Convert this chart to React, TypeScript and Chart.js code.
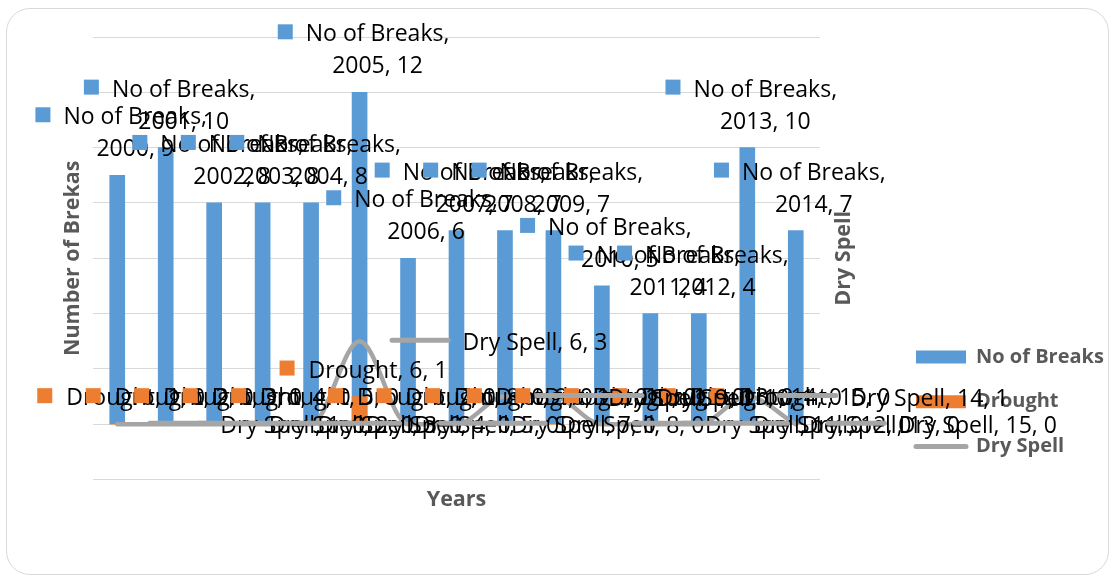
import React, { useEffect, useRef } from 'react';
import { Chart, registerables } from 'chart.js';

Chart.register(...registerables);

// ---- data ----
const years = ['2000', '2001', '2002', '2003', '2004', '2005', '2006', '2007', '2008', '2009', '2010', '2011', '2012', '2013', '2014'];
const pointIndex = [1, 2, 3, 4, 5, 6, 7, 8, 9, 10, 11, 12, 13, 14, 15];
const seriesNames = ['No of Breaks', 'Drought', 'Dry Spell'];
const breaks = [9, 10, 8, 8, 8, 12, 6, 7, 7, 7, 5, 4, 4, 10, 7];
const drought = [0, 0, 0, 0, 0, 1, 0, 0, 0, 0, 0, 0, 0, 0, 0];
const drySpell = [0, 0, 0, 0, 0, 3, 0, 0, 1, 1, 0, 0, 0, 1, 0];
const axisMin = -2;
const axisMax = 14;
const axisStep = 2;
const axisTitles = { x: 'Years', y: 'Number of Brekas', y2: 'Dry Spell' };

// ---- styles ----
const COLORS = ['#5B9BD5', '#ED7D31', '#A5A5A5'];
const TITLE_COLOR = '#595959';
const FONT = '"Open Sans", "Liberation Sans", sans-serif';
const LABEL_FONT = `23px ${FONT}`;
const TITLE_FONT = { family: FONT, size: 21.5, weight: 'bold' as const };
const PLOT_RIGHT = 820;
const LEGEND_LEFT = 891.25;
const LEGEND_PAD = 24.75;

const legendShift = {
  id: 'legendShift',
  afterUpdate(chart: any) {
    const lg = chart.legend;
    if (!lg) return;
    const w = lg.width;
    lg.left = LEGEND_LEFT;
    lg.right = LEGEND_LEFT + w;
  },
};

const labelPlugin = {
  id: 'excelLabels',
  afterDatasetsDraw(chart: any) {
    const ctx = chart.ctx as CanvasRenderingContext2D;
    ctx.save();
    ctx.font = LABEL_FONT;
    ctx.textBaseline = 'alphabetic';

    // No of Breaks labels (two lines, legend key)
    const m0 = chart.getDatasetMeta(0);
    m0.data.forEach((el: any, i: number) => {
      const l1 = `${seriesNames[0]},`;
      const l2 = `${years[i]}, ${breaks[i]}`;
      const w = Math.max(ctx.measureText(l1).width, ctx.measureText(l2).width);
      const total = 15 + 13 + w;
      const left = el.x + 4 - total / 2;
      const top = el.y;
      ctx.fillStyle = COLORS[0];
      ctx.fillRect(left, top - 68, 15, 15);
      ctx.fillStyle = '#000';
      ctx.textAlign = 'center';
      const cx = left + 28 + w / 2;
      ctx.fillText(l1, cx, top - 51);
      ctx.fillText(l2, cx, top - 19);
    });

    // Drought labels (one line, legend key)
    const m1 = chart.getDatasetMeta(1);
    m1.data.forEach((el: any, i: number) => {
      const t = `${seriesNames[1]}, ${pointIndex[i]}, ${drought[i]}`;
      const w = ctx.measureText(t).width;
      const total = 15 + 14 + w;
      const left = el.x + 4 - total / 2;
      const top = el.y;
      ctx.fillStyle = COLORS[1];
      ctx.fillRect(left, top - 36, 15, 15);
      ctx.fillStyle = '#000';
      ctx.textAlign = 'left';
      ctx.fillText(t, left + 29, top - 19);
    });

    // Dry Spell labels (right of point, line key)
    const m2 = chart.getDatasetMeta(2);
    m2.data.forEach((el: any, i: number) => {
      const t = `${seriesNames[2]}, ${pointIndex[i]}, ${drySpell[i]}`;
      ctx.strokeStyle = COLORS[2];
      ctx.lineWidth = 5;
      ctx.lineCap = 'round';
      ctx.beginPath();
      ctx.moveTo(el.x + 32.5, el.y - 1);
      ctx.lineTo(el.x + 88.5, el.y - 1);
      ctx.stroke();
      ctx.fillStyle = '#000';
      ctx.textAlign = 'left';
      ctx.fillText(t, el.x + 103, el.y + 9);
    });
    ctx.restore();
  },
  afterDraw(chart: any) {
    const ctx = chart.ctx as CanvasRenderingContext2D;
    const y2 = chart.scales.y2;
    const area = chart.chartArea;
    ctx.save();
    ctx.translate(y2.left + 24, (area.top + area.bottom) / 2);
    ctx.rotate(-Math.PI / 2);
    ctx.font = `bold ${TITLE_FONT.size}px ${FONT}`;
    ctx.fillStyle = TITLE_COLOR;
    ctx.textAlign = 'center';
    ctx.textBaseline = 'middle';
    ctx.fillText(axisTitles.y2, 0, 0);
    ctx.restore();
  },
};

export default function App() {
  const ref = useRef<HTMLCanvasElement | null>(null);

  useEffect(() => {
    if (!ref.current) return;
    const chart = new Chart(ref.current, {
      type: 'bar',
      data: {
        labels: years,
        datasets: [
          {
            type: 'bar',
            label: seriesNames[0],
            data: breaks,
            backgroundColor: COLORS[0],
            barThickness: 15,
            grouped: false,
            order: 3,
            yAxisID: 'y',
          } as any,
          {
            type: 'bar',
            label: seriesNames[1],
            data: drought,
            backgroundColor: COLORS[1],
            barThickness: 15,
            grouped: false,
            order: 2,
            yAxisID: 'y2',
          } as any,
          {
            type: 'line',
            label: seriesNames[2],
            data: drySpell,
            borderColor: COLORS[2],
            backgroundColor: COLORS[2],
            borderWidth: 4.5,
            borderCapStyle: 'round',
            cubicInterpolationMode: 'monotone',
            pointRadius: 0,
            order: 1,
            yAxisID: 'y2',
          } as any,
        ],
      },
      options: {
        responsive: false,
        animation: false,
        devicePixelRatio: 1,
        layout: { padding: { top: 37, left: 56.2, right: 0, bottom: 61.1 } },
        scales: {
          x: {
            grid: { display: false, drawTicks: false },
            border: { display: false },
            ticks: { display: false },
            title: {
              display: true,
              text: axisTitles.x,
              color: TITLE_COLOR,
              font: TITLE_FONT,
              padding: { top: 7.6, bottom: 4 },
            },
          },
          y: {
            min: axisMin,
            max: axisMax,
            ticks: { display: false, stepSize: axisStep },
            grid: { color: '#D9D9D9', lineWidth: 1, drawTicks: false },
            border: { display: false },
            title: {
              display: true,
              text: axisTitles.y,
              color: TITLE_COLOR,
              font: TITLE_FONT,
              padding: { top: 4, bottom: 7 },
            },
          },
          y2: {
            position: 'right',
            min: axisMin,
            max: axisMax,
            ticks: { display: false, stepSize: axisStep },
            grid: { display: false, drawTicks: false },
            border: { display: false },
            afterFit: (scale: any) => {
              const lw = scale.chart.legend ? scale.chart.legend.width : 0;
              scale.width = Math.max(0, scale.chart.width - lw - PLOT_RIGHT);
            },
          },
        },
        plugins: {
          tooltip: { enabled: false },
          legend: {
            position: 'right',
            align: 'start',
            maxWidth: 400,
            title: {
              display: true,
              text: ' ',
              font: { size: 10 },
              padding: { top: 0, bottom: 273.25 },
            },
            labels: {
              usePointStyle: true,
              pointStyleWidth: 50,
              boxHeight: 13,
              padding: LEGEND_PAD,
              color: TITLE_COLOR,
              font: { family: FONT, size: 20, weight: 'bold' },
              generateLabels: (c: any) =>
                c.data.datasets.map((ds: any, i: number) => ({
                  text: ds.label,
                  fillStyle: COLORS[i],
                  strokeStyle: COLORS[i],
                  lineWidth: i === 2 ? 5 : 0,
                  lineCap: 'round',
                  pointStyle: i === 2 ? 'line' : 'rect',
                  fontColor: TITLE_COLOR,
                  hidden: false,
                  datasetIndex: i,
                })),
            },
          },
        },
      } as any,
      plugins: [legendShift, labelPlugin],
    });
    return () => chart.destroy();
  }, []);

  return (
    <div style={{ position: 'fixed', left: 0, top: 0, width: 1113, height: 578, background: '#fff' }}>
      <div
        style={{
          position: 'absolute',
          left: 6,
          top: 8,
          width: 1103,
          height: 567,
          border: '1.5px solid #D9D9D9',
          borderRadius: 24,
          boxSizing: 'border-box',
        }}
      />
      <canvas ref={ref} width={1113} height={578} style={{ position: 'absolute', left: 0, top: 0 }} />
    </div>
  );
}
